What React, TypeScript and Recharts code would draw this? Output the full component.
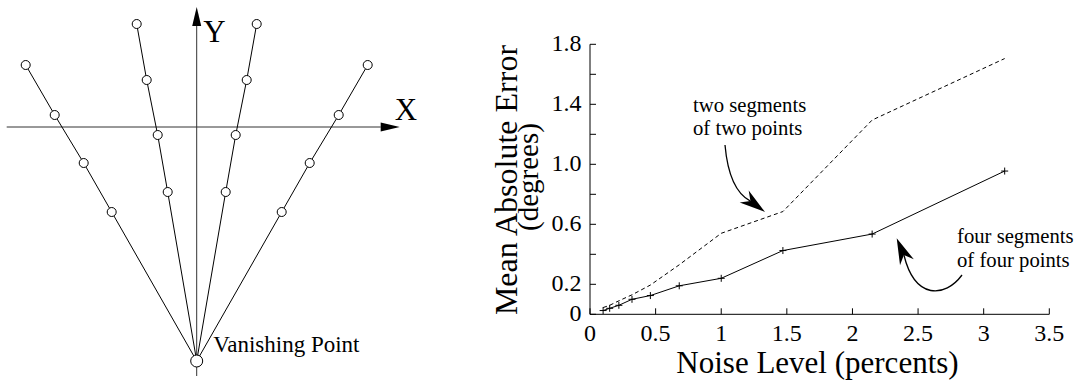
import React from 'react'
import { LineChart, Line, XAxis, YAxis, ScatterChart, Scatter, ReferenceLine } from 'recharts'

const FONT = '"Liberation Serif", "Times New Roman", serif'

// right plot: noise level (percents) vs mean absolute error (degrees)
const noiseLevels = [0.1, 0.15, 0.22, 0.32, 0.46, 0.68, 1.0, 1.47, 2.15, 3.16]
const fourSegFourPts = [0.025, 0.04, 0.06, 0.1, 0.125, 0.19, 0.24, 0.425, 0.535, 0.955]
const twoSegTwoPts = [0.045, 0.06, 0.09, 0.13, 0.195, 0.33, 0.54, 0.685, 1.295, 1.705]
const xTicks = [0, 0.5, 1, 1.5, 2, 2.5, 3, 3.5]
const yTicks = [0, 0.2, 0.4, 0.6, 0.8, 1.0, 1.2, 1.4, 1.6, 1.8]
const yLabelled = [0, 0.2, 0.6, 1.0, 1.4, 1.8]

// left sketch: four image lines running into the vanishing point
const vanishingPoint = [{ x: 0, y: -234 }]
const rayFarLeft = [{ x: -171, y: 62 }, { x: -142, y: 12 }, { x: -113, y: -36 }, { x: -85, y: -85 }, { x: 0, y: -234 }]
const rayLeft = [{ x: -60, y: 103 }, { x: -50, y: 47 }, { x: -39, y: -8 }, { x: -29, y: -65 }, { x: 0, y: -234 }]
const rayRight = [{ x: 60, y: 103 }, { x: 50, y: 47 }, { x: 39, y: -8 }, { x: 29, y: -65 }, { x: 0, y: -234 }]
const rayFarRight = [{ x: 171, y: 62 }, { x: 142, y: 12 }, { x: 113, y: -36 }, { x: 85, y: -85 }, { x: 0, y: -234 }]
const xAxisSeg = [{ x: -190, y: 0 }, { x: 203, y: 0 }]
const yAxisSeg = [{ x: 0, y: -249 }, { x: 0, y: 120 }]

const rows = noiseLevels.map((n, i) => ({ noise: n, four: fourSegFourPts[i], two: twoSegTwoPts[i] }))

const XTick = ({ x, y, payload }: any) => (
  <g>
    <line x1={x} y1={y} x2={x} y2={y - 6} stroke="#000" />
    <text x={x} y={y + 27} textAnchor="middle" fontSize={24} fontFamily={FONT} fill="#000">
      {payload.value}
    </text>
  </g>
)

const YTick = ({ x, y, payload }: any) => {
  const v = payload.value
  return (
    <g>
      <line x1={x} y1={y} x2={x + 6} y2={y} stroke="#000" />
      {yLabelled.includes(v) && (
        <text x={x - 8.5} y={y + 6.5} textAnchor="end" fontSize={24} fontFamily={FONT} fill="#000">
          {v === 0 ? '0' : v.toFixed(1)}
        </text>
      )}
    </g>
  )
}

const PlusDot = (p: any) => (
  <path key={p.index} d={`M${p.cx - 3.5},${p.cy}h7M${p.cx},${p.cy - 3.5}v7`} stroke="#000" strokeWidth={1} fill="none" />
)

const OpenCircle = (p: any) => <circle cx={p.cx} cy={p.cy} r={4.5} fill="#fff" stroke="#000" strokeWidth={1} />

const VanishDot = (p: any) => (
  <g>
    <circle cx={p.cx} cy={p.cy} r={6} fill="#fff" stroke="#000" strokeWidth={1} />
    <text x={p.cx + 16.5} y={p.cy - 9} fontSize={23} fontFamily={FONT} fill="#000">Vanishing Point</text>
  </g>
)

const AxisArrow = ({ x1, y1, x2, y2, name, labelDx, labelDy }: any) => {
  const len = Math.hypot(x2 - x1, y2 - y1)
  const ux = (x2 - x1) / len
  const uy = (y2 - y1) / len
  const bx = x2 - ux * 19
  const by = y2 - uy * 19
  const pts = `${x2},${y2} ${bx - uy * 4.5},${by + ux * 4.5} ${bx + uy * 4.5},${by - ux * 4.5}`
  return (
    <g>
      <line x1={x1} y1={y1} x2={bx} y2={by} stroke="#333" strokeWidth={1} />
      <polygon points={pts} fill="#000" />
      <text x={x2 + labelDx} y={y2 + labelDy} fontSize={31} fontFamily={FONT} fill="#000">{name}</text>
    </g>
  )
}

// arrowhead with a notched back, like the annotation arrows
const headPoints = (tx: number, ty: number, dx: number, dy: number, len = 26, half = 7.5) => {
  const l = Math.hypot(dx, dy)
  const ux = dx / l
  const uy = dy / l
  const bx = tx - ux * len
  const by = ty - uy * len
  const nx = tx - ux * len * 0.7
  const ny = ty - uy * len * 0.7
  return `${tx},${ty} ${bx - uy * half},${by + ux * half} ${nx},${ny} ${bx + uy * half},${by - ux * half}`
}

export default function App() {
  const rays = [rayFarLeft, rayLeft, rayRight, rayFarRight]
  return (
    <div style={{ position: 'absolute', left: 0, top: 0, width: 1080, height: 380, background: '#fff', fontFamily: FONT }}>
      <div style={{ position: 'absolute', left: 0, top: 0 }}>
        <ScatterChart width={420} height={380} margin={{ top: 0, right: 0, bottom: 0, left: 0 }}>
          <XAxis type="number" dataKey="x" domain={[-196.7, 223.3]} allowDataOverflow hide />
          <YAxis type="number" dataKey="y" domain={[-253, 127]} allowDataOverflow hide />
          <ReferenceLine
            segment={yAxisSeg}
            ifOverflow="visible"
            shape={(p: any) => <AxisArrow {...p} name="Y" labelDx={6.5} labelDy={35} />}
          />
          <ReferenceLine
            segment={xAxisSeg}
            ifOverflow="visible"
            shape={(p: any) => <AxisArrow {...p} name="X" labelDx={-5} labelDy={-7} />}
          />
          {rays.map((r, i) => (
            <Scatter
              key={i}
              data={r}
              line={{ stroke: '#000', strokeWidth: 1 }}
              stroke="#000"
              shape={OpenCircle}
              isAnimationActive={false}
            />
          ))}
          <Scatter data={vanishingPoint} shape={VanishDot} isAnimationActive={false} />
        </ScatterChart>
      </div>

      <div style={{ position: 'absolute', left: 480, top: 0 }}>
        <LineChart width={600} height={380} data={rows} margin={{ top: 44.3, right: 30.7, bottom: 35.7, left: 50 }}>
          <XAxis
            dataKey="noise"
            type="number"
            domain={[0, 3.5]}
            ticks={xTicks}
            interval={0}
            tickSize={0}
            tickMargin={0}
            tickLine={false}
            axisLine={{ stroke: '#000' }}
            tick={<XTick />}
            height={30}
            allowDataOverflow
          />
          <YAxis
            type="number"
            domain={[0, 1.8]}
            ticks={yTicks}
            interval={0}
            tickSize={0}
            tickMargin={0}
            tickLine={false}
            axisLine={{ stroke: '#000' }}
            tick={<YTick />}
            width={60}
            allowDataOverflow
          />
          <Line type="linear" dataKey="two" stroke="#000" strokeWidth={1} strokeDasharray="4 3" dot={false} isAnimationActive={false} />
          <Line type="linear" dataKey="four" stroke="#000" strokeWidth={1} dot={PlusDot} isAnimationActive={false} />
        </LineChart>
      </div>

      <svg width={1080} height={380} style={{ position: 'absolute', left: 0, top: 0, pointerEvents: 'none' }}>
        <g fontFamily={FONT} fill="#000">
          <text x={516.7} y={180} fontSize={32} textAnchor="middle" transform="rotate(-90 516.7 180)">Mean Absolute Error</text>
          <text x={538} y={177} fontSize={29} textAnchor="middle" transform="rotate(-90 538 177)">(degrees)</text>
          <text x={817.5} y={373} fontSize={31} textAnchor="middle">Noise Level (percents)</text>
          <text x={693} y={111.7} fontSize={20.7}>two segments</text>
          <text x={693} y={135} fontSize={20.7}>of two points</text>
          <text x={957} y={243.3} fontSize={20.7}>four segments</text>
          <text x={957} y={266.5} fontSize={20.7}>of four points</text>
        </g>
        <path d="M725,145 Q729,190 750.4,201.1" fill="none" stroke="#000" strokeWidth={1.3} />
        <polygon points={headPoints(765, 212, 20, 15)} fill="#000" />
        <path d="M962,275 C945,298 915,300 903.9,255" fill="none" stroke="#000" strokeWidth={1.3} />
        <polygon points={headPoints(896.7, 238.3, -10, -23.4)} fill="#000" />
      </svg>
    </div>
  )
}
